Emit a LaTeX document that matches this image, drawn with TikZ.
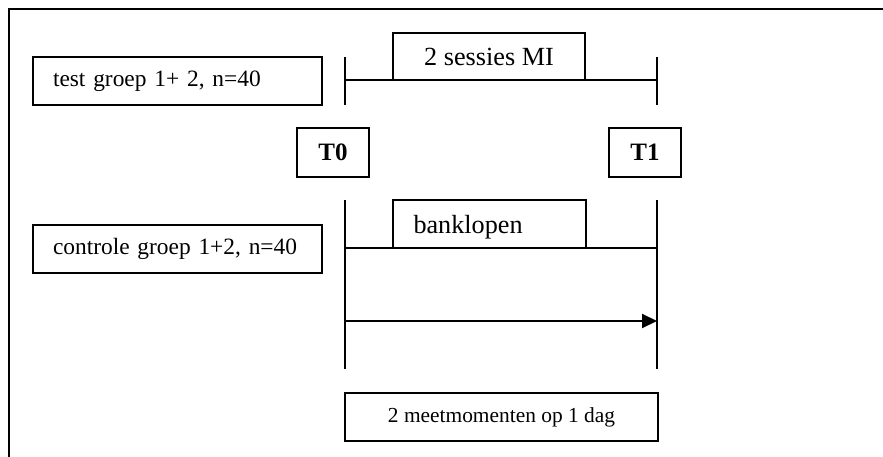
\documentclass[tikz,border=0pt]{standalone}
\usepackage{fontspec}
\setmainfont{Liberation Serif}
\usetikzlibrary{arrows.meta}
\begin{document}
\begin{tikzpicture}[x=1pt,y=-1pt,line width=2pt,
  frameline/.style={line width=2.2pt},
  box/.style={draw,line width=2pt,inner ysep=0pt,minimum height=48pt},
  leftbox/.style={box,align=left,inner xsep=20pt},
  midbox/.style={box,align=center,inner xsep=0pt},
  smalltext/.style={font=\fontsize{23.4}{26}\selectfont},
  bigtext/.style={font=\fontsize{26.2}{28}\selectfont},
  tinytext/.style={font=\fontsize{21.4}{24}\selectfont},
  tbox/.style={box,align=center,inner xsep=0pt,minimum width=72pt,minimum height=49pt,font=\fontsize{25}{27}\selectfont\bfseries},
  tick/.style={line width=2pt},
  arrowline/.style={line width=2pt,-{Triangle[length=15pt,width=14pt]}}]
\useasboundingbox (0,0) rectangle (883,457);
% frame (only top and left edges visible)
\coordinate (frameTL) at (9,9);
\coordinate (frameTR) at (883,9);
\coordinate (frameBL) at (9,457);
\draw[frameline] (frameTR) -- (frameTL) -- (frameBL);
% group boxes
\node[leftbox,smalltext,text width=249pt] (test) at (177.5,81) {test groep 1+ 2, n=40};
\node[leftbox,smalltext,text width=249pt] (controle) at (177.5,248.5) {controle groep 1+2, n=40};
% top timeline
\coordinate (a1) at (345,57); \coordinate (a2) at (345,105);
\coordinate (b1) at (657,57); \coordinate (b2) at (657,105);
\coordinate (aL) at (345,80); \coordinate (bL) at (657,80);
\draw[tick] (a1) -- (a2);
\draw[tick] (b1) -- (b2);
\draw[tick] (aL) -- (bL);
\node[midbox,bigtext,minimum width=192pt,minimum height=47pt] (sessies) at (489,56.5) {2 sessies MI};
% T boxes
\node[tbox] (T0) at (333,152.5) {T0};
\node[tbox] (T1) at (645,152.5) {T1};
% lower timeline
\coordinate (c1) at (345,200); \coordinate (c2) at (345,369);
\coordinate (d1) at (657,200); \coordinate (d2) at (657,369);
\coordinate (cL) at (345,248); \coordinate (dL) at (657,248);
\coordinate (cA) at (345,321); \coordinate (dA) at (657,321);
\draw[tick] (c1) -- (c2);
\draw[tick] (d1) -- (d2);
\draw[tick] (cL) -- (dL);
\node[leftbox,bigtext,text width=151pt,inner xsep=21pt,minimum height=48pt,text depth=0pt] (bank) at (489,224) {banklopen};
\draw[arrowline] (cA) -- (dA);
% bottom box
\node[midbox,tinytext,minimum width=313pt] (meet) at (501.5,417) {2 meetmomenten op 1 dag};
\end{tikzpicture}
\end{document}
